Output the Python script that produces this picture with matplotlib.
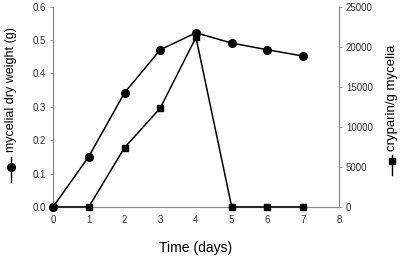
import matplotlib
matplotlib.use("Agg")
from matplotlib import pyplot as plt
from matplotlib.lines import Line2D

plt.rcParams['font.family'] = ['Liberation Sans', 'DejaVu Sans']

# data
days = [0, 1, 2, 3, 4, 5, 6, 7]
dry_weight = [0.0, 0.151, 0.342, 0.471, 0.522, 0.491, 0.471, 0.452]
cryparin = [0, 0, 7400, 12340, 21170, 0, 0, 0]

x_ticks = [0, 1, 2, 3, 4, 5, 6, 7, 8]
left_ticks = [0.0, 0.1, 0.2, 0.3, 0.4, 0.5, 0.6]
right_ticks = [0, 5000, 10000, 15000, 20000, 25000]

fig = plt.figure(figsize=(4.02, 2.58), dpi=100)
ax = fig.add_axes([0.132, 0.198, 0.711, 0.776])
ax2 = ax.twinx()

ax.plot(days, dry_weight, color='black', lw=1.1, marker='o', ms=5.5, zorder=3)
ax2.plot(days, cryparin, color='black', lw=1.1, marker='s', ms=5, zorder=3)

ax.set_xlim(0, 8)
ax.set_ylim(0, 0.6)
ax2.set_ylim(0, 25000)
ax.set_xticks(x_ticks)
ax.set_yticks(left_ticks)
ax.set_yticklabels(['%.1f' % v for v in left_ticks])
ax2.set_yticks(right_ticks)

for a in (ax, ax2):
    for s in a.spines.values():
        s.set_color('#888888')
        s.set_linewidth(0.8)
    a.spines['top'].set_visible(False)
    a.tick_params(labelsize=7, colors='#888888', labelcolor='#333333',
                  length=2, width=0.6, pad=3)
ax.tick_params(axis='x', length=0, pad=6)
for ln in ax.lines + ax2.lines:
    ln.set_clip_on(False)

ax.set_xlabel('Time (days)', fontsize=10, labelpad=11)

# y labels with a small line+marker key in front
fig.text(0.027, 0.41, 'mycelial dry weight (g)', rotation=90, fontsize=9,
         ha='center', va='bottom')
fig.lines.append(Line2D([0.027, 0.027], [0.295, 0.39], transform=fig.transFigure,
                        color='black', lw=1))
fig.lines.append(Line2D([0.027], [0.353], transform=fig.transFigure,
                        color='black', marker='o', ms=5.5, ls='none'))

fig.text(0.975, 0.415, 'cryparin/g mycelia', rotation=90, fontsize=9.5,
         ha='center', va='bottom')
fig.lines.append(Line2D([0.975, 0.975], [0.322, 0.399], transform=fig.transFigure,
                        color='black', lw=1))
fig.lines.append(Line2D([0.975], [0.375], transform=fig.transFigure,
                        color='black', marker='s', ms=4.5, ls='none'))

fig.savefig('out.png', dpi=100)
